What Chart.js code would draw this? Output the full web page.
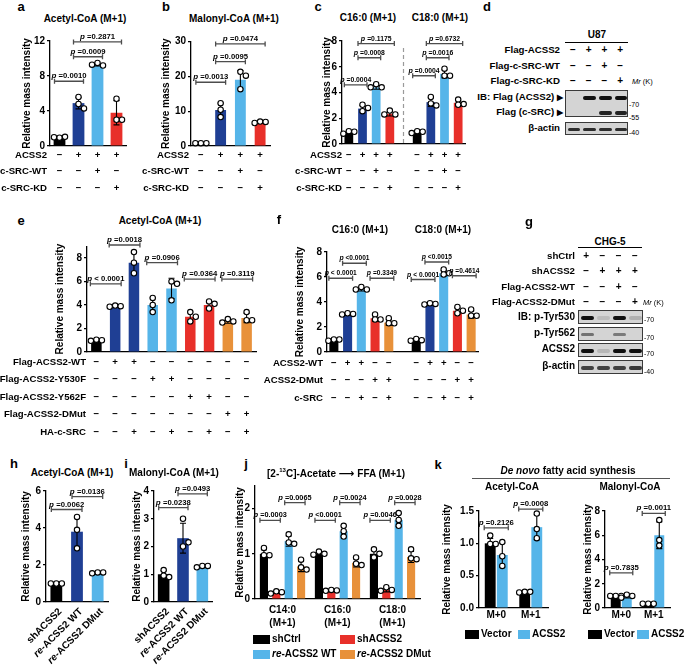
<!DOCTYPE html>
<html>
<head>
<meta charset="utf-8">
<script src="https://cdn.jsdelivr.net/npm/chart.js@4.4.1/dist/chart.umd.min.js"></script>
<style>
body { margin: 0; background: #fff; }
#fig { position: relative; width: 685px; height: 665px; overflow: hidden;
       font-family: "Liberation Sans", Arial, sans-serif; font-weight: bold; color: #000; }
.t { position: absolute; white-space: nowrap; line-height: 1; }
.blot { position: absolute; background: #d4d4d4; border: 1px solid #3a3a3a; box-sizing: border-box; }
.band { position: absolute; border-radius: 2px; filter: blur(0.6px); }
</style>
</head>
<body>
<div id="fig"></div>
<script>
const FF = '"Liberation Sans", Arial, sans-serif';
const K = '#000000', DB = '#1f3f94', LB = '#56b5e9', RD = '#e8302a', OR = '#e8913a';

// a / b : ACSS2 +/- c-SRC
const srcCats = ['ctrl', 'ACSS2', 'ACSS2 + c-SRC-WT', 'ACSS2 + c-SRC-KD'];
const srcColors = [K, DB, LB, RD];
const srcRows = ['ACSS2', 'c-SRC-WT', 'c-SRC-KD'];
const srcSigns = ['-+++', '--+-', '---+'];
const aMean = [1.0, 4.9, 9.3, 3.8];
const aPts = [[0.95, 1.05, 1.0], [5.6, 4.8, 4.3], [9.5, 9.2, 9.3], [5.4, 3.0, 3.0]];
const aP = [[0, 1, 7.4, '=0.0010'], [1, 2, 10.2, '=0.0009'], [1, 3, 11.9, '=0.2871']];
const bMean = [0.8, 10.3, 19.0, 6.8];
const bPts = [[0.8, 0.8, 0.8], [12.3, 10.4, 8.3], [21.3, 20.2, 16.3], [7.0, 6.9, 6.6]];
const bP = [[0, 1, 18.3, '=0.0013'], [1, 2, 24.2, '=0.0095'], [1, 3, 29.3, '=0.0474']];

// c : C16:0 / C18:0 (gap slot in the middle)
const cCats = ['C16 ctrl', 'C16 ACSS2', 'C16 WT', 'C16 KD', '', 'C18 ctrl', 'C18 ACSS2', 'C18 WT', 'C18 KD'];
const cColors = [K, DB, LB, RD, K, K, DB, LB, RD];
const cMean = [0.9, 2.75, 4.4, 2.35, null, 0.9, 3.25, 5.45, 3.2];
const cPts = [[1.0, 0.95, 0.8], [3.05, 2.8, 2.55], [4.65, 4.4, 4.4], [2.6, 2.3, 2.3], [],
              [1.0, 0.95, 0.85], [3.65, 3.15, 3.0], [5.85, 5.3, 5.3], [3.45, 3.1, 3.05]];
const cSigns = ['-+++ -+++', '--+- --+-', '---+ ---+'];
const cP = [[0, 1, 4.6, '=0.0004'], [1, 2, 6.7, '=0.0008'], [1, 3, 7.8, '=0.1175'],
            [5, 6, 5.3, '=0.0004'], [6, 7, 6.7, '=0.0016'], [6, 8, 7.8, '=0.6732']];

// e : ACSS2 mutants
const eCats = ['ctrl', 'WT', 'WT+SRC', 'Y530F', 'Y530F+SRC', 'Y562F', 'Y562F+SRC', 'DMut', 'DMut+SRC'];
const eColors = [K, DB, DB, LB, LB, RD, RD, OR, OR];
const eMean = [1.0, 3.9, 7.6, 4.0, 5.4, 3.0, 4.0, 2.6, 2.9];
const ePts = [[1.05, 1.0, 0.95], [3.95, 3.9, 3.85], [8.5, 7.6, 6.7], [4.6, 4.0, 3.4], [6.0, 5.8, 4.4],
              [3.4, 3.0, 2.6], [4.3, 4.1, 3.7], [2.8, 2.6, 2.5], [3.4, 2.7, 2.7]];
const eRows = ['Flag-ACSS2-WT', 'Flag-ACSS2-Y530F', 'Flag-ACSS2-Y562F', 'Flag-ACSS2-DMut', 'HA-c-SRC'];
const eSigns = ['-++------', '---++----', '-----++--', '-------++', '--+-+-+-+'];
const eP = [[0, 1, 5.8, '< 0.0001'], [1, 2, 9.1, '=0.0018'], [3, 4, 7.6, '=0.0906'],
            [5, 6, 6.2, '=0.0364'], [7, 8, 6.2, '=0.3119']];

// f : C16:0 / C18:0 with DMut
const fCats = ['C16 ctrl', 'C16 WT', 'C16 WT+SRC', 'C16 DMut', 'C16 DMut+SRC', '',
               'C18 ctrl', 'C18 WT', 'C18 WT+SRC', 'C18 DMut', 'C18 DMut+SRC'];
const fColors = [K, DB, LB, RD, OR, K, K, DB, LB, RD, OR];
const fMean = [0.95, 3.0, 5.0, 2.7, 2.35, null, 0.9, 3.8, 6.3, 3.3, 3.0];
const fPts = [[1.0, 1.0, 0.9], [3.1, 3.05, 3.0], [5.2, 5.0, 5.0], [3.0, 2.6, 2.6], [2.7, 2.3, 2.3], [],
              [1.05, 0.95, 0.9], [3.9, 3.85, 3.8], [6.6, 6.3, 6.2], [3.6, 3.3, 3.1], [3.4, 2.9, 2.9]];
const fRows = ['ACSS2-WT', 'ACSS2-DMut', 'c-SRC'];
const fSigns = ['-++-- -++--', '---++ ---++', '--+-+ --+-+'];
const fP = [[0, 1, 5.9, '< 0.0001'], [1, 2, 7.1, '<0.0001'], [3, 4, 5.9, '=0.3349'],
            [6, 7, 5.8, '< 0.0001'], [7, 8, 7.2, '<0.0015'], [9, 10, 6.1, '=0.4614']];

// h / i : rescue
const reCats = ['shACSS2', 're-ACSS2 WT', 're-ACSS2 DMut'];
const reColors = [K, DB, LB];
const hMean = [1.0, 3.8, 1.55];
const hPts = [[1.0, 1.0, 1.0], [4.6, 3.9, 2.9], [1.6, 1.6, 1.55]];
const hP = [[0, 1, 5.0, '=0.0062'], [1, 2, 5.7, '=0.0136']];
const iMean = [1.0, 2.3, 1.28];
const iPts = [[1.15, 0.95, 0.9], [3.0, 2.0, 2.15], [1.3, 1.3, 1.25]];
const iP = [[0, 1, 3.4, '=0.0238'], [1, 2, 3.9, '=0.0493']];

// j : [2-13C]-acetate -> FFA
const jGroups = [['C14:0', '(M+1)'], ['C16:0', '(M+1)'], ['C18:0', '(M+1)']];
const jSeries = ['shCtrl', 'shACSS2', 're-ACSS2 WT', 're-ACSS2 DMut'];
const jColors = [K, RD, LB, OR];
const jMean = [[1.0, 1.0, 1.0], [0.15, 0.18, 0.2], [1.28, 1.5, 1.75], [0.72, 0.8, 0.93]];
const jPts = [
  [[1.13, 0.97, 0.97], [1.05, 1.0, 0.98], [1.1, 1.0, 0.92]],
  [[0.17, 0.15, 0.12], [0.2, 0.19, 0.18], [0.26, 0.2, 0.18]],
  [[1.43, 1.25, 1.22], [1.62, 1.5, 1.38], [1.9, 1.75, 1.62]],
  [[0.87, 0.7, 0.65], [0.92, 0.78, 0.75], [1.1, 0.9, 0.88]]
];
const jP = [[0, 0, 1, 1.74, '=0.0003'], [0, 2, 3, 2.13, '=0.0065'], [1, 0, 1, 1.74, '<0.0001'],
            [1, 2, 3, 2.13, '=0.0024'], [2, 0, 1, 1.74, '=0.0046'], [2, 2, 3, 2.13, '=0.0028']];

// k : de novo synthesis
const kGroups = ['M+0', 'M+1'];
const kSeries = ['Vector', 'ACSS2'];
const kColors = [K, LB];
const k1Mean = [[1.0, 0.24], [0.82, 1.25]];
const k1Pts = [[[1.12, 0.99, 0.99], [0.25, 0.25, 0.24]], [[1.02, 0.8, 0.65], [1.46, 1.22, 1.08]]];
const k1P = [[0, 0, 1, 1.24, '=0.2126'], [1, 0, 1, 1.53, '=0.0008']];
const k2Mean = [[1.0, 0.35], [0.95, 6.0]];
const k2Pts = [[[1.0, 1.0, 1.0], [0.35, 0.35, 0.35]], [[1.1, 1.0, 0.85], [7.25, 5.6, 5.15]]];
const k2P = [[0, 0, 1, 2.9, '=0.7835'], [1, 0, 1, 7.8, '=0.0011']];

// blots (band strength per lane)
const dRows = ['Flag-ACSS2', 'Flag-c-SRC-WT', 'Flag-c-SRC-KD'];
const dSigns = ['-+++', '--+-', '---+'];
const dACSS2 = [0, 1, 1, 1];
const dSRC = [0, 0, 0.9, 0.9];
const dActin = [0.85, 0.85, 0.85, 0.85];
const gRows = ['shCtrl', 'shACSS2', 'Flag-ACSS2-WT', 'Flag-ACSS2-DMut'];
const gSigns = ['+---', '-+++', '--+-', '---+'];
const gY530 = [1, 0.12, 1, 0.18];
const gY562 = [0.5, 0, 0.45, 0];
const gACSS2 = [1, 0.15, 1, 1];
const gActin = [0.75, 0.75, 0.75, 0.8];

const fig = document.getElementById('fig');

function txt(x, y, html, size, anchor, extra) {
  const d = document.createElement('div');
  d.className = 't';
  d.innerHTML = html;
  const tx = anchor === 'r' ? '-100%' : anchor === 'l' ? '0' : '-50%';
  d.style.cssText = 'left:' + x + 'px;top:' + y + 'px;font-size:' + (size || 10) + 'px;transform:translate(' + tx + ',-50%);' + (extra || '');
  fig.appendChild(d);
}
function rect(x, y, w, h, color) {
  const d = document.createElement('div');
  d.style.cssText = 'position:absolute;left:' + x + 'px;top:' + y + 'px;width:' + w + 'px;height:' + h + 'px;background:' + color;
  fig.appendChild(d);
}
function sd(a) {
  const m = a.reduce((s, v) => s + v, 0) / a.length;
  return Math.sqrt(a.reduce((s, v) => s + (v - m) * (v - m), 0) / (a.length - 1));
}
// sideways offset (px) so white dots do not sit on each other
function jitter(vals, ppu) {
  const placed = [];
  return vals.map(v => {
    const y = v * ppu;
    let dx = 0;
    for (const t of [0, 5.5, -5.5, 11, -11]) {
      if (placed.every(p => Math.hypot(p[0] - t, p[1] - y) >= 5)) { dx = t; break; }
    }
    placed.push([dx, y]);
    return dx;
  });
}

const deco = {
  id: 'deco',
  afterDatasetDraw(chart, args) {
    const ds = chart.data.datasets[args.index];
    if (!ds.pts) return;
    const y = chart.scales.y, ctx = chart.ctx;
    ctx.save();
    ctx.strokeStyle = '#000';
    ctx.lineWidth = 1.1;
    args.meta.data.forEach((bar, i) => {
      const p = ds.pts[i];
      if (!p || p.length < 2) return;
      const m = ds.data[i], s = sd(p);
      const y1 = y.getPixelForValue(m + s), y2 = y.getPixelForValue(Math.max(m - s, 0));
      ctx.beginPath();
      ctx.moveTo(bar.x, y1); ctx.lineTo(bar.x, y2);
      ctx.moveTo(bar.x - 3, y1); ctx.lineTo(bar.x + 3, y1);
      ctx.moveTo(bar.x - 3, y2); ctx.lineTo(bar.x + 3, y2);
      ctx.stroke();
    });
    ctx.restore();
  },
  afterDatasetsDraw(chart) {
    // replicate dots, placed on each bar through the y scale
    const y = chart.scales.y, ctx = chart.ctx;
    ctx.save();
    ctx.fillStyle = '#fff'; ctx.strokeStyle = '#000'; ctx.lineWidth = 1.1;
    chart.data.datasets.forEach((ds, d) => {
      chart.getDatasetMeta(d).data.forEach((bar, i) => {
        (ds.pts[i] || []).forEach((v, k) => {
          ctx.beginPath();
          ctx.arc(bar.x + ds.jit[i][k], y.getPixelForValue(v), 2.7, 0, Math.PI * 2);
          ctx.fill(); ctx.stroke();
        });
      });
    });
    ctx.restore();
  },
  afterDraw(chart, args, o) {
    const ctx = chart.ctx, y = chart.scales.y, xs = chart.scales.x, base = chart.chartArea.bottom;
    const barX = (d, i) => chart.getDatasetMeta(d).data[i].x;
    ctx.save();
    if (o.divider != null) {
      const dx = xs.getPixelForValue(o.divider);
      ctx.strokeStyle = '#9a9a9a'; ctx.lineWidth = 1.2; ctx.setLineDash([4, 3]);
      ctx.beginPath(); ctx.moveTo(dx, chart.chartArea.top + 7); ctx.lineTo(dx, base); ctx.stroke();
      ctx.setLineDash([]);
    }
    const pf = o.pfs, ipf = 'italic bold ' + (pf + 0.3) + 'px ' + FF, npf = 'bold ' + pf + 'px ' + FF;
    (o.brackets || []).forEach(b => {
      let xa, xb, lv, t;
      if (b.length === 4) { xa = barX(0, b[0]); xb = barX(0, b[1]); lv = b[2]; t = b[3]; }
      else { xa = barX(b[1], b[0]); xb = barX(b[2], b[0]); lv = b[3]; t = b[4]; }
      xa -= o.ext; xb += o.ext;
      const py = y.getPixelForValue(lv);
      ctx.strokeStyle = '#4d4d4d'; ctx.lineWidth = 1.3;
      ctx.beginPath();
      ctx.moveTo(xa, py); ctx.lineTo(xb, py);
      ctx.moveTo(xa, py - 2.5); ctx.lineTo(xa, py + 2.5);
      ctx.moveTo(xb, py - 2.5); ctx.lineTo(xb, py + 2.5);
      ctx.stroke();
      ctx.fillStyle = '#000'; ctx.textAlign = 'left'; ctx.textBaseline = 'alphabetic';
      ctx.font = ipf;
      const wp = ctx.measureText('p ').width;
      ctx.font = npf;
      const wt = ctx.measureText(t).width;
      const x0 = (xa + xb) / 2 - (wp + wt) / 2;
      ctx.font = ipf; ctx.fillText('p', x0, py - 3);
      ctx.font = npf; ctx.fillText(t, x0 + wp, py - 3);
    });
    if (o.rows) {
      ctx.fillStyle = '#000'; ctx.font = 'bold 9.6px ' + FF; ctx.textBaseline = 'middle';
      o.rows.forEach((lab, r) => {
        const ry = base + o.row0 + r * o.rowGap;
        ctx.textAlign = 'right'; ctx.fillText(lab, o.labelX, ry);
        ctx.textAlign = 'center';
        [...o.signs[r]].forEach((s, i) => {
          if (s !== ' ') ctx.fillText(s === '-' ? '\u2212' : '+', xs.getPixelForValue(i), ry);
        });
      });
    }
    if (o.rot) {
      ctx.fillStyle = '#000'; ctx.textBaseline = 'middle'; ctx.textAlign = 'right';
      o.rot.forEach((lab, i) => {
        ctx.save();
        ctx.translate(xs.getPixelForValue(i) + 4, base + 8);
        ctx.rotate(-Math.PI / 4);
        const it = lab.startsWith('re-') ? 're' : '';
        const rest = lab.slice(it.length);
        ctx.font = 'bold 10px ' + FF; ctx.fillText(rest, 0, 0);
        const w = ctx.measureText(rest).width;
        if (it) { ctx.font = 'italic bold 10px ' + FF; ctx.fillText(it, -w, 0); }
        ctx.restore();
      });
    }
    ctx.restore();
  }
};

// g: page geometry of canvas and axes, o: data and decorations
function plot(g, o) {
  const wrap = document.createElement('div');
  wrap.style.cssText = 'position:absolute;left:' + g.left + 'px;top:' + g.top + 'px;width:' + g.w + 'px;height:' + g.h + 'px';
  const cv = document.createElement('canvas');
  wrap.appendChild(cv);
  fig.appendChild(wrap);
  const ppu = (g.yBottom - g.yTop) / o.max;
  const xh = o.xh || 0;
  const datasets = o.series.map(s => ({
    data: s.mean, pts: s.pts, jit: s.pts.map(p => jitter(p, ppu)), backgroundColor: s.color,
    categoryPercentage: o.cp || 1, barPercentage: o.bp, borderWidth: 0
  }));
  new Chart(cv, {
    type: 'bar',
    data: { labels: o.labels, datasets: datasets },
    options: {
      responsive: true, maintainAspectRatio: false, animation: false,
      layout: { padding: { left: 0, top: g.yTop - g.top, right: g.left + g.w - g.axisRight, bottom: g.top + g.h - g.yBottom - xh } },
      plugins: {
        legend: { display: false }, tooltip: { enabled: false },
        deco: {
          brackets: o.brackets, ext: o.ext || 5, divider: o.divider, pfs: o.pfs || 7.7,
          rows: o.rows, signs: o.signs, row0: o.row0 || 10, rowGap: o.rowGap || 16.5,
          labelX: (o.labelX || 0) - g.left, rot: o.rot
        }
      },
      scales: {
        x: {
          type: 'category', offset: true,
          grid: { display: false, drawTicks: false },
          border: { display: true, color: '#000', width: 1.3 },
          ticks: { display: xh > 0, padding: o.xpad || 2, maxRotation: 0, autoSkip: false,
                   font: { size: 10, weight: 'bold', lineHeight: 1.3 } },
          afterFit: s => { s.height = xh; }
        },
        y: {
          min: 0, max: o.max,
          grid: { display: true, drawOnChartArea: false, drawTicks: true, tickLength: 3, color: '#000', lineWidth: 1.2 },
          border: { display: true, color: '#000', width: 1.3 },
          ticks: { stepSize: o.step, includeBounds: false, padding: 2, font: { size: 10, weight: 'bold' },
                   callback: o.fmt || (v => v) },
          title: { display: true, text: 'Relative mass intensity', font: { size: 10, weight: 'bold' },
                   padding: { top: g.titleX - g.left - 6, bottom: 0 } },
          afterFit: s => { s.width = g.axisX - g.left; }
        }
      }
    },
    plugins: [deco]
  });
}

Chart.defaults.font.family = FF;
Chart.defaults.font.weight = 'bold';
Chart.defaults.color = '#000';

// a
plot({ left: 0, top: 28, w: 132, h: 168, axisX: 50, axisRight: 126, yTop: 41, yBottom: 146, titleX: 27 },
  { labels: srcCats, series: [{ mean: aMean, pts: aPts, color: srcColors }], max: 12, step: 4, bp: 0.62,
    brackets: aP, rows: srcRows, signs: srcSigns, labelX: 47, row0: 9, rowGap: 16.5 });
// b
plot({ left: 140, top: 28, w: 135, h: 168, axisX: 191, axisRight: 270, yTop: 41.5, yBottom: 146, titleX: 166 },
  { labels: srcCats, series: [{ mean: bMean, pts: bPts, color: srcColors }], max: 30, step: 10, bp: 0.55,
    brackets: bP, rows: srcRows, signs: srcSigns, labelX: 189, row0: 9, rowGap: 16.5 });
// c
plot({ left: 285, top: 28, w: 185, h: 168, axisX: 342, axisRight: 465, yTop: 41, yBottom: 144, titleX: 327 },
  { labels: cCats, series: [{ mean: cMean, pts: cPts, color: cColors }], max: 8, step: 2, bp: 0.64,
    brackets: cP, ext: 4.5, pfs: 6.8, divider: 4, rows: srcRows, signs: cSigns, labelX: 342, row0: 11, rowGap: 16.5 });
// e
plot({ left: 0, top: 230, w: 262, h: 210, axisX: 87, axisRight: 256, yTop: 246.2, yBottom: 352, titleX: 60 },
  { labels: eCats, series: [{ mean: eMean, pts: ePts, color: eColors }], max: 9, step: 2, bp: 0.56,
    brackets: eP, ext: 6, rows: eRows, signs: eSigns, labelX: 86, row0: 10, rowGap: 17.5 });
// f
plot({ left: 255, top: 236, w: 228, h: 172, axisX: 327, axisRight: 478, yTop: 252, yBottom: 352, titleX: 300 },
  { labels: fCats, series: [{ mean: fMean, pts: fPts, color: fColors }], max: 8, step: 2, bp: 0.66,
    brackets: fP, ext: 5, pfs: 6.6, rows: fRows, signs: fSigns, labelX: 323, row0: 11, rowGap: 17.5 });
// h
plot({ left: 0, top: 482, w: 115, h: 183, axisX: 46, axisRight: 108, yTop: 491, yBottom: 602, titleX: 26 },
  { labels: reCats, series: [{ mean: hMean, pts: hPts, color: reColors }], max: 6, step: 2, bp: 0.57,
    brackets: hP, ext: 5, rot: reCats });
// i
plot({ left: 112, top: 482, w: 108, h: 183, axisX: 154, axisRight: 212, yTop: 491, yBottom: 602, titleX: 137 },
  { labels: reCats, series: [{ mean: iMean, pts: iPts, color: reColors }], max: 4, step: 1, bp: 0.6,
    brackets: iP, ext: 5, rot: reCats });
// j
plot({ left: 228, top: 478, w: 200, h: 160, axisX: 255, axisRight: 420, yTop: 485, yBottom: 599, titleX: 240 },
  { labels: jGroups, series: jSeries.map((s, d) => ({ mean: jMean[d], pts: jPts[d], color: jColors[d] })),
    max: 2.5, step: 1, cp: 0.9, bp: 0.66, brackets: jP, ext: 4, pfs: 7.3, xh: 34, xpad: 5 });
// k
plot({ left: 438, top: 495, w: 115, h: 135, axisX: 479, axisRight: 548, yTop: 511, yBottom: 608, titleX: 447 },
  { labels: kGroups, series: kSeries.map((s, d) => ({ mean: k1Mean[d], pts: k1Pts[d], color: kColors[d] })),
    max: 1.5, step: 0.5, fmt: v => v.toFixed(1), cp: 0.7, bp: 0.9, brackets: k1P, ext: 6, xh: 18, xpad: 1 });
plot({ left: 578, top: 495, w: 100, h: 135, axisX: 605, axisRight: 670, yTop: 511, yBottom: 608, titleX: 588 },
  { labels: kGroups, series: kSeries.map((s, d) => ({ mean: k2Mean[d], pts: k2Pts[d], color: kColors[d] })),
    max: 8, step: 2, cp: 0.68, bp: 0.9, brackets: k2P, ext: 6, xh: 18, xpad: 1 });

// panel letters and titles
[['a', 21, 6], ['b', 166, 6], ['c', 318, 6], ['d', 487, 6], ['e', 21, 220], ['f', 279, 219], ['g', 529, 221],
 ['h', 14, 463], ['i', 126, 463], ['j', 246, 463], ['k', 438, 464]].forEach(l => txt(l[1], l[2], l[0], 13));
txt(85, 19, 'Acetyl-CoA (M+1)', 10);
txt(234, 19, 'Malonyl-CoA (M+1)', 10);
txt(368, 18, 'C16:0 (M+1)', 10);
txt(440, 18, 'C18:0 (M+1)', 10);
txt(160, 221, 'Acetyl-CoA (M+1)', 10);
txt(360, 230, 'C16:0 (M+1)', 10);
txt(443, 230, 'C18:0 (M+1)', 10);
txt(72, 473, 'Acetyl-CoA (M+1)', 10);
txt(174, 473, 'Malonyl-CoA (M+1)', 10);
txt(336, 473, '[2-<sup style="font-size:6px">13</sup>C]-Acetate <span style="font-family:\'DejaVu Sans\';font-size:11px">\u27F6</span> FFA (M+1)', 10);
txt(568, 471, '<i>De novo</i> fatty acid synthesis', 10);
rect(472, 478, 198, 1.3, '#555');
txt(512, 487, 'Acetyl-CoA', 10);
txt(630, 487, 'Malonyl-CoA', 10);

// legends
function key(x, y, color, html, sw) {
  rect(x, y - 4.5, sw, 9, color);
  txt(x + sw + 2, y, html, 10, 'l');
}
key(253, 639, K, 'shCtrl', 17);
key(340, 639, RD, 'shACSS2', 15);
key(253, 654, LB, '<i>re</i>-ACSS2 WT', 17);
key(340, 654, OR, '<i>re</i>-ACSS2 DMut', 15);
key(465, 634, K, 'Vector', 14);
key(518, 634, LB, 'ACSS2', 12);
key(588, 634, K, 'Vector', 14);
key(637, 634, LB, 'ACSS2', 12);

// western blots
function blot(x0, y0, w, h, bands) {
  const b = document.createElement('div');
  b.className = 'blot';
  b.style.cssText = 'left:' + x0 + 'px;top:' + y0 + 'px;width:' + w + 'px;height:' + h + 'px';
  fig.appendChild(b);
  bands.forEach(([by, bh, vals]) => vals.forEach((v, i) => {
    if (!v) return;
    const lw = w / vals.length;
    const d = document.createElement('div');
    d.className = 'band';
    d.style.cssText = 'left:' + (i * lw + lw * 0.1) + 'px;width:' + (lw * 0.8) + 'px;top:' + (by - bh / 2) +
      'px;height:' + bh + 'px;background:rgba(15,15,15,' + v + ')';
    b.appendChild(d);
  }));
}
function laneRows(x0, w, y0, gap, rows, signs, labelX) {
  rows.forEach((lab, r) => {
    const ry = y0 + r * gap;
    txt(labelX, ry, lab, 9.7, 'r');
    [...signs[r]].forEach((s, i) => txt(x0 + (i + 0.5) * w / 4, ry, s === '-' ? '\u2212' : '+', 10));
  });
}
// d
txt(597, 35, 'U87', 10);
rect(565, 42, 63, 1.3, '#000');
laneRows(565, 63, 50, 15.5, dRows, dSigns, 560);
txt(632, 82, '<i>Mr</i> (K)', 7.5, 'l', 'font-weight:normal');
blot(565, 90, 63, 27, [[7, 4, dACSS2], [22, 3.5, dSRC]]);
blot(565, 122, 63, 13, [[6.5, 3.5, dActin]]);
txt(563, 97, 'IB: Flag (ACSS2) <span style="font-size:8px">\u25B6</span>', 9.7, 'r');
txt(563, 112, 'Flag (c-SRC) <span style="font-size:8px">\u25B6</span>', 9.7, 'r');
txt(560, 128, '\u03B2-actin', 9.7, 'r');
txt(629, 104, '-70', 7, 'l', 'font-weight:normal');
txt(629, 117, '-55', 7, 'l', 'font-weight:normal');
txt(629, 132, '-40', 7, 'l', 'font-weight:normal');
// g
txt(610, 242, 'CHG-5', 10);
rect(578, 247, 64, 1.3, '#000');
laneRows(578, 65, 256, 15.3, gRows, gSigns, 575);
txt(643, 303, '<i>Mr</i> (K)', 7.5, 'l', 'font-weight:normal');
blot(578, 310, 65, 14, [[6.5, 4, gY530]]);
blot(578, 327, 65, 14, [[6.5, 3.5, gY562]]);
blot(578, 343, 65, 14, [[7, 4, gACSS2]]);
blot(578, 360, 65, 14, [[7, 3.5, gActin]]);
txt(575, 317, 'IB: p-Tyr530', 10, 'r');
txt(575, 333, 'p-Tyr562', 10, 'r');
txt(575, 349, 'ACSS2', 10, 'r');
txt(575, 366, '\u03B2-actin', 10, 'r');
txt(644, 319, '-70', 7, 'l', 'font-weight:normal');
txt(644, 337, '-70', 7, 'l', 'font-weight:normal');
txt(644, 353, '-70', 7, 'l', 'font-weight:normal');
txt(644, 371, '-40', 7, 'l', 'font-weight:normal');
</script>
</body>
</html>
